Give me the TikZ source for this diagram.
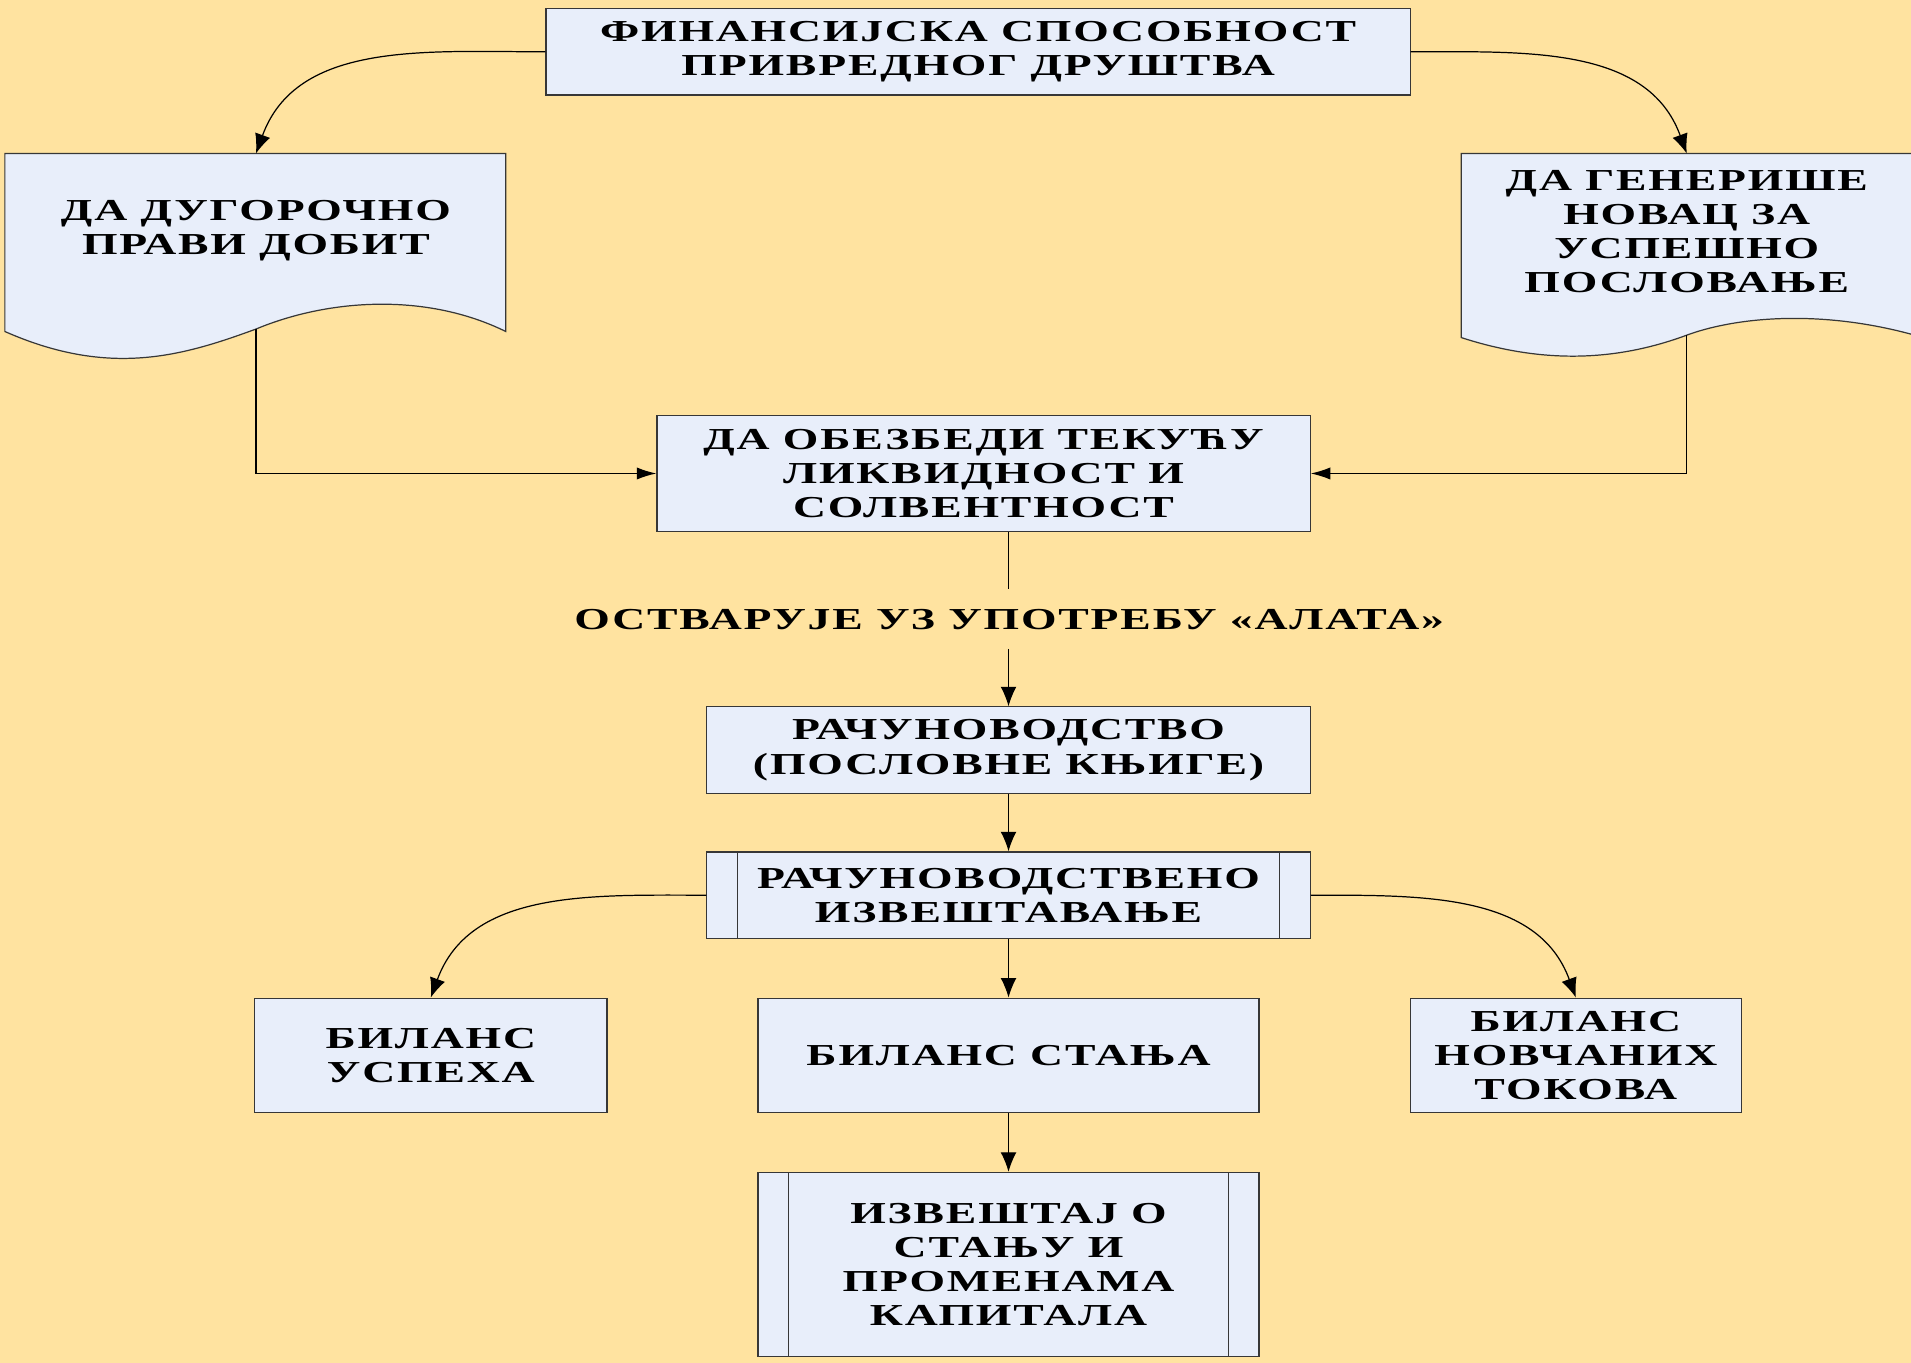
\documentclass[tikz,border=0pt]{standalone}
\usepackage{fontspec}
\setmainfont{Liberation Serif}[FakeStretch=1.5,LetterSpace=6]
\usetikzlibrary{arrows.meta,calc}
\definecolor{bg}{RGB}{255,227,160}
\definecolor{boxfill}{RGB}{232,238,250}
\definecolor{edge}{RGB}{55,55,55}
\begin{document}
\begin{tikzpicture}[x=0.5pt,y=-0.5pt,
  txt/.style={font=\bfseries\fontsize{12.5}{14}\selectfont, align=center, text=black, inner sep=0pt},
  boxstyle/.style={txt, draw=edge, fill=boxfill, line width=0.5pt},
  predef/.style={boxstyle, path picture={
     \draw[edge, line width=0.4pt] ([xshift=12.5pt]path picture bounding box.north west) -- ([xshift=12.5pt]path picture bounding box.south west);
     \draw[edge, line width=0.4pt] ([xshift=-12.5pt]path picture bounding box.north east) -- ([xshift=-12.5pt]path picture bounding box.south east);}},
  docshape/.style={draw=edge, fill=boxfill, line width=0.5pt},
  conn/.style={draw=black, line width=0.5pt},
  arr/.style={conn, -{Latex[length=8pt,width=6.5pt]}},
  harr/.style={conn, -{Latex[length=8pt,width=5pt]}}]
\useasboundingbox (0,0) rectangle (1568,1118);
\clip (0,0) rectangle (1568,1118);
\fill[bg] (0,0) rectangle (1568,1118);

% document shapes
\path[docshape] (4,126) -- (415,126) -- (415,272) .. controls (350,240) and (270,245) .. (210,270) .. controls (150,292) and (90,310) .. (4,272) -- cycle;
\coordinate (ldocT) at (210,126);
\coordinate (ldocB) at (210,270);
\path[docshape] (1199,126) -- (1620,126) -- (1620,292) .. controls (1520,250) and (1430,258) .. (1384,275) .. controls (1330,295) and (1270,300) .. (1199,277) -- cycle;
\coordinate (rdocT) at (1384,126);
\coordinate (rdocB) at (1384,275);

% nodes
\node[boxstyle, minimum width=354.5pt, minimum height=35.5pt] (top) at (802.5,42.5) {ФИНАНСИЈСКА СПОСОБНОСТ\\ПРИВРЕДНОГ ДРУШТВА};
\node[txt] (ldoc) at (210,189) {ДА ДУГОРОЧНО\\ПРАВИ ДОБИТ};
\node[txt] (rdoc) at (1384,190) {ДА ГЕНЕРИШЕ\\НОВАЦ ЗА\\УСПЕШНО\\ПОСЛОВАЊЕ};
\node[boxstyle, minimum width=268pt, minimum height=47.5pt] (mid) at (807,388.5) {ДА ОБЕЗБЕДИ ТЕКУЋУ\\ЛИКВИДНОСТ И\\СОЛВЕНТНОСТ};
\node[txt, minimum height=24pt] (lbl) at (828,508) {ОСТВАРУЈЕ УЗ УПОТРЕБУ «АЛАТА»};
\node[boxstyle, minimum width=247.5pt, minimum height=35.5pt] (rac) at (827.5,615.5) {РАЧУНОВОДСТВО\\(ПОСЛОВНЕ КЊИГЕ)};
\node[predef, minimum width=247.5pt, minimum height=35.5pt] (izv) at (827.5,734.5) {РАЧУНОВОДСТВЕНО\\ИЗВЕШТАВАЊЕ};
\node[boxstyle, minimum width=144.5pt, minimum height=47pt] (bu) at (353.5,866) {БИЛАНС\\УСПЕХА};
\node[boxstyle, minimum width=205.5pt, minimum height=47pt] (bs) at (827.5,866) {БИЛАНС СТАЊА};
\node[boxstyle, minimum width=136pt, minimum height=47pt] (bn) at (1293,866) {БИЛАНС\\НОВЧАНИХ\\ТОКОВА};
\node[predef, minimum width=205.5pt, minimum height=75.5pt] (izk) at (827.5,1037.5) {ИЗВЕШТАЈ О\\СТАЊУ И\\ПРОМЕНАМА\\КАПИТАЛА};

% connectors
\draw[arr] (top.west) to[out=180,in=70] (ldocT);
\draw[arr] (top.east) to[out=0,in=110] (rdocT);
\draw[harr] (ldocB) |- (mid.west);
\draw[harr] (rdocB) |- (mid.east);
\draw[conn] (mid.south -| rac.north) -- (lbl.north -| rac.north);
\draw[arr] (lbl.south -| rac.north) -- (rac.north);
\draw[arr] (rac) -- (izv);
\draw[arr] (izv.west) to[out=180,in=70] (bu.north);
\draw[arr] (izv.east) to[out=0,in=110] (bn.north);
\draw[arr] (izv) -- (bs);
\draw[arr] (bs) -- (izk);
\end{tikzpicture}
\end{document}
